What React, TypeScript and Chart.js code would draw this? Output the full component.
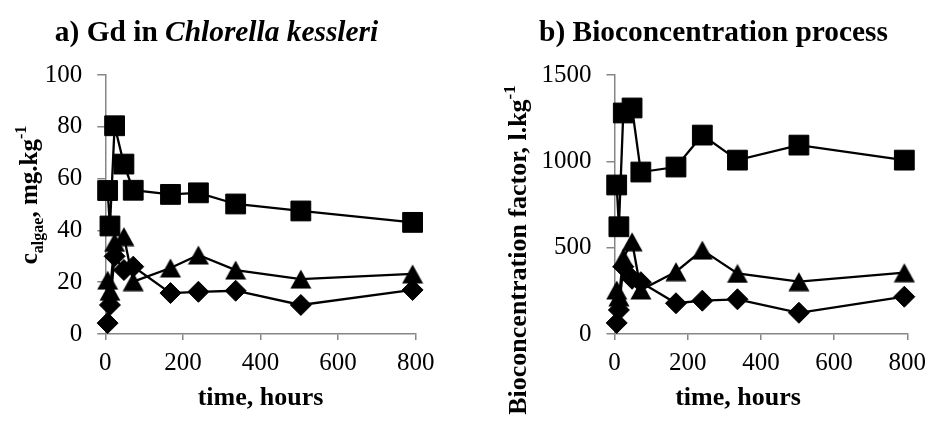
import React, { useEffect, useRef } from 'react';
import { Chart, registerables } from 'chart.js';

Chart.register(...registerables);

// ---- data ----
const hours = [6, 12, 24, 48, 72, 168, 240, 336, 504, 792];

const algaeSquares = [55.4, 41.7, 80.4, 65.6, 55.5, 53.9, 54.5, 50.2, 47.5, 43.1];
const algaeTriangles = [20.8, 16.5, 35.4, 37.6, 20.2, 25.5, 30.5, 24.7, 21.2, 23.2];
const algaeDiamonds = [4.2, 11.2, 30.0, 24.7, 26.0, 15.8, 16.3, 16.7, 11.2, 17.0];

const bcfSquares = [863, 621, 1280, 1309, 938, 967, 1152, 1007, 1094, 1007];
const bcfTriangles = [255, 215, 440, 534, 255, 361, 486, 351, 303, 355];
const bcfDiamonds = [64, 139, 390, 320, 300, 178, 193, 201, 123, 216];

const xTickValues = [0, 200, 400, 600, 800];
const algaeTickValues = [0, 20, 40, 60, 80, 100];
const bcfTickValues = [0, 500, 1000, 1500];

const SERIF = '"Liberation Serif", "Times New Roman", Times, serif';
const AXIS_GRAY = '#868686';

type Seg = { t: string; size: number; bold?: boolean; italic?: boolean; shift?: number };
type RichLabel = { segs: Seg[]; x: number; y: number; rotate?: boolean };

function segFont(s: Seg) {
  return `${s.italic ? 'italic ' : ''}${s.bold ? 'bold ' : ''}${s.size}px ${SERIF}`;
}

function makeRichPlugin(labels: RichLabel[]) {
  return {
    id: 'richText',
    afterDraw(chart: any) {
      const ctx: CanvasRenderingContext2D = chart.ctx;
      labels.forEach((l) => {
        ctx.save();
        ctx.translate(l.x, l.y);
        if (l.rotate) ctx.rotate(-Math.PI / 2);
        ctx.fillStyle = '#000';
        ctx.textAlign = 'left';
        ctx.textBaseline = 'alphabetic';
        let total = 0;
        const widths = l.segs.map((s) => {
          ctx.font = segFont(s);
          const w = ctx.measureText(s.t).width;
          total += w;
          return w;
        });
        let cx = -total / 2;
        l.segs.forEach((s, i) => {
          ctx.font = segFont(s);
          ctx.fillText(s.t, cx, s.shift || 0);
          cx += widths[i];
        });
        ctx.restore();
      });
    },
  };
}

// Excel-like triangle marker, centred on its bounding box
function triangleMarker(): HTMLCanvasElement {
  const c = document.createElement('canvas');
  c.width = 22;
  c.height = 20;
  const g = c.getContext('2d')!;
  g.fillStyle = '#000';
  g.beginPath();
  g.moveTo(11, 0.5);
  g.lineTo(21.5, 19.5);
  g.lineTo(0.5, 19.5);
  g.closePath();
  g.fill();
  return c;
}

function series(ys: number[], style: any, radius: number) {
  return {
    data: hours.map((h, i) => ({ x: h, y: ys[i] })),
    showLine: true,
    borderColor: '#000',
    backgroundColor: '#000',
    borderWidth: 2.3,
    pointStyle: style,
    pointRadius: radius,
    pointHoverRadius: radius,
    pointBorderWidth: 1,
    pointBackgroundColor: '#000',
    pointBorderColor: '#000',
    tension: 0,
    clip: false,
  };
}

type PanelSpec = {
  squares: number[];
  triangles: number[];
  diamonds: number[];
  yTicks: number[];
  yWidth: number;
  padRight: number;
  labels: RichLabel[];
};

function buildConfig(p: PanelSpec): any {
  const tickFont = { family: SERIF, size: 25 };
  const tri = triangleMarker();
  return {
    type: 'scatter',
    data: {
      datasets: [
        series(p.diamonds, 'rectRot', 10.5),
        series(p.triangles, tri, 11),
        series(p.squares, 'rect', 14),
      ],
    },
    options: {
      responsive: false,
      animation: false,
      devicePixelRatio: 1,
      events: [],
      layout: { padding: { left: 0, right: p.padRight, top: 75, bottom: 0 } },
      plugins: {
        legend: { display: false },
        tooltip: { enabled: false },
        title: { display: false },
      },
      scales: {
        x: {
          type: 'linear',
          min: xTickValues[0],
          max: xTickValues[xTickValues.length - 1],
          afterBuildTicks: (scale: any) => {
            scale.ticks = xTickValues.map((v) => ({ value: v }));
          },
          afterFit: (scale: any) => {
            scale.height = 87;
          },
          ticks: {
            font: tickFont,
            color: '#000',
            padding: 8,
            maxRotation: 0,
            autoSkip: false,
            callback: (v: any) => String(v),
          },
          grid: {
            drawOnChartArea: false,
            drawTicks: true,
            tickLength: 6,
            color: AXIS_GRAY,
            lineWidth: 1.5,
          },
          border: { display: true, color: AXIS_GRAY, width: 1.5 },
        },
        y: {
          type: 'linear',
          min: p.yTicks[0],
          max: p.yTicks[p.yTicks.length - 1],
          afterBuildTicks: (scale: any) => {
            scale.ticks = p.yTicks.map((v) => ({ value: v }));
          },
          afterFit: (scale: any) => {
            scale.width = p.yWidth;
          },
          ticks: {
            font: tickFont,
            color: '#000',
            padding: 15,
            autoSkip: false,
            callback: (v: any) => String(v),
          },
          grid: {
            drawOnChartArea: false,
            drawTicks: true,
            tickLength: 8,
            color: AXIS_GRAY,
            lineWidth: 1.5,
          },
          border: { display: true, color: AXIS_GRAY, width: 1.5 },
        },
      },
    },
    plugins: [makeRichPlugin(p.labels)],
  };
}

const panelA: PanelSpec = {
  squares: algaeSquares,
  triangles: algaeTriangles,
  diamonds: algaeDiamonds,
  yTicks: algaeTickValues,
  yWidth: 105.3,
  padRight: 467 - 415.7,
  labels: [
    {
      segs: [
        { t: 'a) Gd in ', size: 29.4, bold: true },
        { t: 'Chlorella kessleri', size: 29.4, bold: true, italic: true },
      ],
      x: 216.5,
      y: 41,
    },
    { segs: [{ t: 'time, hours', size: 26, bold: true }], x: 260.5, y: 405 },
    {
      segs: [
        { t: 'c', size: 25, bold: true },
        { t: 'algae', size: 16, bold: true, shift: 6 },
        { t: ', mg.kg', size: 25, bold: true },
        { t: '-1', size: 16, bold: true, shift: -11 },
      ],
      x: 37,
      y: 195,
      rotate: true,
    },
  ],
};

const panelB: PanelSpec = {
  squares: bcfSquares,
  triangles: bcfTriangles,
  diamonds: bcfDiamonds,
  yTicks: bcfTickValues,
  yWidth: 614.5 - 467,
  padRight: 467 - (912 - 467),
  labels: [
    {
      segs: [{ t: 'b) Bioconcentration process', size: 29.4, bold: true }],
      x: 713.5 - 467,
      y: 41,
    },
    { segs: [{ t: 'time, hours', size: 26, bold: true }], x: 738 - 467, y: 405 },
    {
      segs: [
        { t: 'Bioconcentration factor, l.kg', size: 26, bold: true },
        { t: '-1', size: 17, bold: true, shift: -11 },
      ],
      x: 526 - 467,
      y: 250,
      rotate: true,
    },
  ],
};

function Panel({ spec, left }: { spec: PanelSpec; left: number }) {
  const ref = useRef<HTMLCanvasElement | null>(null);
  useEffect(() => {
    if (!ref.current) return;
    const chart = new Chart(ref.current, buildConfig(spec));
    return () => chart.destroy();
  }, [spec]);
  return (
    <canvas
      ref={ref}
      width={467}
      height={421}
      style={{ position: 'absolute', left, top: 0, width: 467, height: 421 }}
    />
  );
}

export default function App() {
  return (
    <div
      style={{
        position: 'absolute',
        left: 0,
        top: 0,
        width: 934,
        height: 421,
        background: '#fff',
        overflow: 'hidden',
      }}
    >
      <Panel spec={panelA} left={0} />
      <Panel spec={panelB} left={467} />
    </div>
  );
}
